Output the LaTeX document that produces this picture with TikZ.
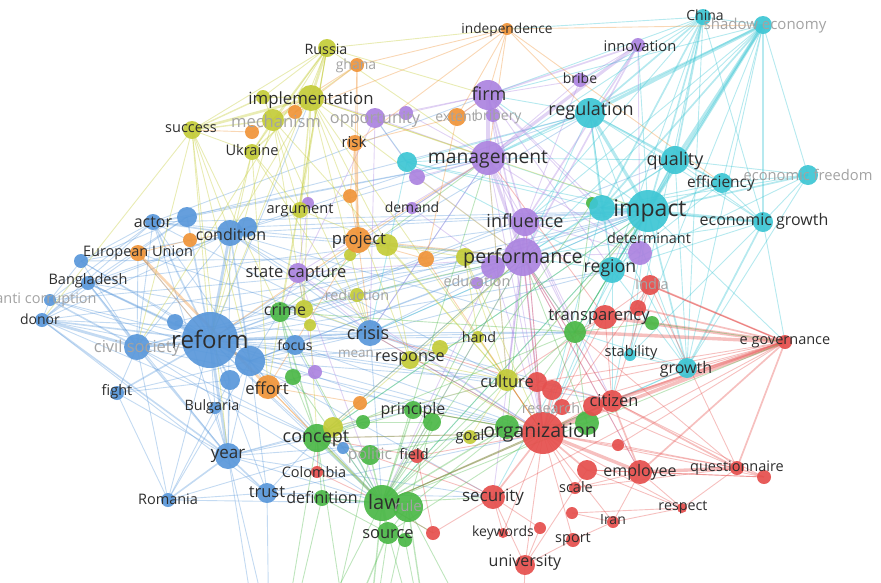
\documentclass[tikz,border=0pt]{standalone}
\usepackage{fontspec}
\setmainfont{Open Sans}
\pgfdeclarelayer{bg}
\pgfsetlayers{bg,main}
\definecolor{cb}{HTML}{5A98DA}
\definecolor{cg}{HTML}{4CB848}
\definecolor{cr}{HTML}{E5504E}
\definecolor{cy}{HTML}{C4CC3A}
\definecolor{cp}{HTML}{AC84E0}
\definecolor{cc}{HTML}{3EC6D4}
\definecolor{co}{HTML}{F0953A}
\definecolor{tdark}{HTML}{2E2E2E}
\definecolor{tgray}{HTML}{A3A3A3}
\tikzset{
 nd/.style={circle,inner sep=0pt,draw=none,minimum size=#1},
 lab/.style={inner sep=0pt,text=tdark},
 labg/.style={inner sep=0pt,text=tgray},
 eb/.style={draw=cb,draw opacity=.36,line width=#1}, eb/.default=0.9pt,
 eg/.style={draw=cg,draw opacity=.36,line width=#1}, eg/.default=0.9pt,
 er/.style={draw=cr,draw opacity=.36,line width=#1}, er/.default=0.9pt,
 ey/.style={draw=cy,draw opacity=.38,line width=#1}, ey/.default=0.9pt,
 ep/.style={draw=cp,draw opacity=.36,line width=#1}, ep/.default=0.9pt,
 ec/.style={draw=cc,draw opacity=.38,line width=#1}, ec/.default=0.9pt,
 eo/.style={draw=co,draw opacity=.38,line width=#1}, eo/.default=0.9pt,
}
\newcommand\VN[5]{\node[nd={#4*2pt},fill=#5,fill opacity=.93] (#1) at (#2,#3) {};}
\newcommand\TB[5]{\node[lab,font=\fontsize{#4}{#4}\selectfont] (#1) at (#2,#3) {#5};}
\newcommand\TG[5]{\node[labg,font=\fontsize{#4}{#4}\selectfont] (#1) at (#2,#3) {#5};}
\newcommand\ED[2]{\foreach \a/\b in {#2} {\draw[#1] (\a.center) -- (\b.center);}}
\begin{document}
\begin{tikzpicture}[x=1pt,y=-1pt]
\useasboundingbox (0,0) rectangle (881,582);
\clip (0,0) rectangle (881,582);
% ---------- blue
\VN{reform}{210}{340}{28}{cb}
\VN{civsoc}{137}{347}{13}{cb}
\VN{b1}{175}{322}{8}{cb}
\VN{b2}{250}{361}{15}{cb}
\VN{b3}{230}{380}{10}{cb}
\VN{actor}{153}{222}{8}{cb}
\VN{b4}{187}{217}{10}{cb}
\VN{condition}{230}{233}{13}{cb}
\VN{b5}{247}{227}{10}{cb}
\VN{b6}{81}{261}{7}{cb}
\VN{bangla}{88}{283}{7}{cb}
\VN{anticorr}{50}{300}{6}{cb}
\VN{donor}{42}{320}{7}{cb}
\VN{fight}{117}{393}{7}{cb}
\VN{bulgaria}{215}{408}{6}{cb}
\VN{year}{228}{456}{13}{cb}
\VN{romania}{168}{500}{7}{cb}
\VN{trust}{267}{493}{10}{cb}
\VN{focus}{295}{345}{10}{cb}
\VN{crisis}{370}{333}{13}{cb}
\VN{b7}{343}{448}{6}{cb}
% ---------- green
\VN{crime}{280}{312}{10}{cg}
\VN{g1}{293}{377}{8}{cg}
\VN{concept}{317}{438}{14}{cg}
\VN{politic}{370}{455}{10}{cg}
\VN{g2}{363}{422}{7}{cg}
\VN{principle}{413}{410}{9}{cg}
\VN{g3}{432}{422}{9}{cg}
\VN{definition}{322}{498}{8}{cg}
\VN{law}{382}{503}{18}{cg}
\VN{rule}{408}{507}{15}{cg}
\VN{source}{388}{533}{11}{cg}
\VN{g4}{405}{540}{7}{cg}
\VN{g5}{507}{427}{12}{cg}
\VN{g6}{587}{423}{12}{cg}
\VN{transp}{575}{332}{11}{cg}
\VN{g7}{652}{323}{7}{cg}
\VN{g8}{592}{203}{6}{cg}
% ---------- red
\VN{org}{543}{433}{21}{cr}
\VN{r1}{537}{382}{10}{cr}
\VN{r2}{552}{390}{10}{cr}
\VN{r3}{562}{407}{8}{cr}
\VN{citizen}{612}{401}{11}{cr}
\VN{r4}{593}{406}{10}{cr}
\VN{r5}{618}{445}{6}{cr}
\VN{employee}{640}{472}{12}{cr}
\VN{r6}{587}{470}{10}{cr}
\VN{quest}{737}{468}{7}{cr}
\VN{r7}{764}{477}{7}{cr}
\VN{respect}{682}{508}{5}{cr}
\VN{iran}{613}{522}{6}{cr}
\VN{scale}{575}{488}{6}{cr}
\VN{r8}{572}{513}{6}{cr}
\VN{sport}{573}{540}{7}{cr}
\VN{r9}{540}{528}{6}{cr}
\VN{keywords}{503}{533}{5}{cr}
\VN{univ}{525}{565}{10}{cr}
\VN{security}{493}{497}{12}{cr}
\VN{r10}{433}{533}{7}{cr}
\VN{field}{417}{456}{7}{cr}
\VN{colombia}{317}{472}{6}{cr}
\VN{india}{650}{285}{10}{cr}
\VN{r11}{638}{308}{8}{cr}
\VN{r12}{605}{317}{12}{cr}
\VN{egov}{785}{342}{7}{cr}
% ---------- cyan
\VN{impact}{648}{211}{21}{cc}
\VN{c1}{602}{208}{13}{cc}
\VN{econgrowth}{763}{222}{10}{cc}
\VN{region}{612}{270}{13}{cc}
\VN{stability}{630}{355}{6}{cc}
\VN{growth}{687}{368}{10}{cc}
\VN{quality}{675}{160}{14}{cc}
\VN{efficiency}{722}{183}{10}{cc}
\VN{econfree}{808}{175}{10}{cc}
\VN{china}{703}{17}{8}{cc}
\VN{shadow}{763}{25}{9}{cc}
\VN{regulation}{590}{113}{15}{cc}
\VN{c2}{407}{162}{10}{cc}
% ---------- purple
\VN{firm}{488}{95}{15}{cp}
\VN{management}{488}{158}{17}{cp}
\VN{bribe}{580}{80}{7}{cp}
\VN{innovation}{638}{45}{7}{cp}
\VN{opportunity}{375}{118}{10}{cp}
\VN{p1}{406}{113}{7}{cp}
\VN{bribery}{493}{115}{7}{cp}
\VN{p2}{417}{177}{8}{cp}
\VN{influence}{525}{222}{14}{cp}
\VN{performance}{523}{257}{19}{cp}
\VN{p3}{493}{267}{12}{cp}
\VN{education}{477}{283}{6}{cp}
\VN{determinant}{640}{253}{12}{cp}
\VN{statecap}{298}{273}{10}{cp}
\VN{demand}{412}{208}{6}{cp}
\VN{p4}{308}{203}{6}{cp}
\VN{p5}{315}{372}{7}{cp}
% ---------- yellow
\VN{russia}{327}{48}{9}{cy}
\VN{implementation}{311}{98}{13}{cy}
\VN{y1}{263}{97}{7}{cy}
\VN{mechanism}{273}{120}{11}{cy}
\VN{success}{192}{130}{9}{cy}
\VN{ukraine}{252}{152}{8}{cy}
\VN{argument}{300}{210}{8}{cy}
\VN{y2}{387}{245}{11}{cy}
\VN{y3}{350}{255}{6}{cy}
\VN{y4}{465}{257}{9}{cy}
\VN{reduction}{357}{295}{7}{cy}
\VN{y5}{304}{309}{9}{cy}
\VN{y6}{310}{325}{6}{cy}
\VN{hand}{478}{337}{6}{cy}
\VN{response}{410}{360}{9}{cy}
\VN{y7}{440}{348}{8}{cy}
\VN{culture}{507}{380}{11}{cy}
\VN{goal}{470}{437}{7}{cy}
\VN{y8}{333}{427}{10}{cy}
% ---------- orange
\VN{independence}{507}{29}{6}{co}
\VN{ghana}{357}{65}{7}{co}
\VN{o1}{295}{112}{7}{co}
\VN{o2}{252}{132}{7}{co}
\VN{extent}{457}{117}{9}{co}
\VN{risk}{355}{143}{8}{co}
\VN{o3}{350}{196}{7}{co}
\VN{project}{358}{240}{13}{co}
\VN{o4}{426}{259}{8}{co}
\VN{effort}{268}{387}{12}{co}
\VN{o5}{360}{403}{7}{co}
\VN{o6}{190}{240}{7}{co}
\VN{eu}{138}{253}{8}{co}
% off-picture ends
\coordinate (ob1) at (270,720);
\coordinate (ob2) at (360,720);
\coordinate (ob3) at (440,720);
\coordinate (ob4) at (520,720);
\coordinate (ob5) at (310,720);
\coordinate (ob6) at (300,760);
\begin{pgfonlayer}{bg}
\clip (0,0) rectangle (881,582);
% blue
\ED{eb=2.8pt}{reform/civsoc,reform/b2,reform/condition,reform/year,civsoc/donor,reform/b1}
\ED{eb=1.6pt}{reform/actor,reform/bangla,reform/donor,reform/fight,civsoc/year,civsoc/bangla,civsoc/anticorr,reform/crisis,year/trust,year/romania,reform/b4,reform/b3,condition/b2,actor/condition,donor/year,bangla/b2}
\ED{eb}{reform/eu,reform/anticorr,reform/bulgaria,reform/romania,reform/trust,reform/focus,reform/concept,reform/impact,reform/management,reform/performance,reform/regulation,reform/org,reform/transp,reform/implementation,reform/law,reform/b6,reform/quality,reform/region,reform/influence,civsoc/actor,civsoc/condition,civsoc/fight,civsoc/romania,civsoc/b6,civsoc/crisis,civsoc/eu,civsoc/performance,civsoc/impact,donor/actor,donor/condition,donor/b4,donor/bangla,donor/anticorr,donor/b2,donor/trust,anticorr/actor,anticorr/condition,anticorr/b6,anticorr/b2,bangla/condition,bangla/b4,bangla/year,b6/condition,b6/b4,b6/actor,b6/b2,actor/b4,actor/b2,actor/crisis,actor/year,condition/crisis,condition/year,condition/impact,condition/performance,condition/management,condition/b5,fight/year,fight/b2,fight/romania,fight/b3,year/b2,year/bulgaria,year/b3,year/concept,year/law,year/org,year/ob1,year/ob6,romania/trust,romania/b2,romania/b3,romania/law,romania/b7,trust/b2,trust/concept,trust/law,trust/ob1,crisis/b2,crisis/impact,crisis/performance,crisis/management,crisis/focus,crisis/org,focus/b2,b2/concept,b2/crime,b2/effort,b2/law,b2/impact,b2/performance,b7/concept,b7/law,b5/impact,b5/regulation,b4/management,actor/impact,bangla/impact,donor/performance,b1/impact,reform/culture,reform/response,reform/hand,reform/principle,reform/citizen,reform/security,condition/org,condition/transp,condition/culture,crisis/culture,crisis/transp,crisis/citizen,crisis/region,crisis/law,actor/performance,actor/management,b2/org,b2/transp,b2/culture,civsoc/org,civsoc/law,civsoc/concept,year/security,year/principle,year/culture,trust/org,trust/security,focus/org,focus/law,donor/crisis,donor/concept,bangla/crisis,anticorr/performance,b6/performance,eu/crisis,b4/regulation,actor/firm}
% cyan
\ED{ec=3.2pt}{impact/regulation,impact/quality,impact/econgrowth,impact/shadow,regulation/shadow,impact/c1,shadow/quality}
\ED{ec=1.7pt}{impact/efficiency,impact/china,impact/growth,impact/region,regulation/quality,shadow/econgrowth,regulation/china,china/quality,econfree/impact,shadow/c1,regulation/c1,shadow/management,china/c1,econgrowth/growth}
\ED{ec}{impact/stability,impact/egov,impact/management,impact/performance,impact/influence,impact/firm,impact/c2,impact/org,impact/transp,impact/innovation,impact/citizen,regulation/region,regulation/firm,regulation/management,regulation/econgrowth,regulation/efficiency,regulation/growth,regulation/innovation,regulation/c2,regulation/performance,quality/econgrowth,quality/efficiency,quality/econfree,quality/growth,quality/region,quality/c1,quality/management,shadow/china,shadow/region,shadow/growth,shadow/efficiency,shadow/stability,shadow/firm,shadow/econfree,china/region,china/econgrowth,china/growth,china/management,china/stability,china/independence,econfree/efficiency,econfree/econgrowth,econfree/c1,econfree/region,econgrowth/region,econgrowth/c1,econgrowth/stability,econgrowth/efficiency,econgrowth/egov,efficiency/c1,efficiency/region,growth/region,growth/c1,growth/stability,growth/org,growth/citizen,c2/management,c2/c1,c2/region,c2/crisis,c2/opportunity,region/c1,region/performance,region/org,china/firm,shadow/performance,china/bribe,econfree/growth,impact/law,impact/crisis,impact/concept,impact/security,impact/culture,region/citizen,region/transp,growth/transp,c1/performance,c1/org,shadow/influence,china/influence,quality/performance,econgrowth/performance}
% purple
\ED{ep=3.2pt}{firm/management,management/performance,management/innovation}
\ED{ep=1.6pt}{firm/performance,firm/influence,performance/influence,performance/org,innovation/performance,firm/innovation,innovation/influence}
\ED{ep}{firm/bribe,firm/bribery,firm/opportunity,firm/p1,firm/c1,firm/determinant,firm/extent,management/influence,management/bribe,management/opportunity,management/p2,management/determinant,management/statecap,management/org,performance/p3,performance/determinant,performance/culture,performance/transp,innovation/bribe,innovation/determinant,opportunity/p1,opportunity/statecap,opportunity/p2,opportunity/implementation,statecap/p4,statecap/p5,statecap/crime,influence/determinant,influence/p3,demand/p3,demand/management,p5/effort,bribe/influence,p3/education,statecap/performance,p2/performance,performance/law,performance/concept,performance/security,performance/citizen,performance/employee,management/culture,management/transp,management/crisis,influence/org,influence/culture,influence/transp,influence/citizen,firm/region,firm/org,statecap/law,statecap/org,statecap/crisis,p3/org,p3/law,opportunity/crisis,p1/management}
% yellow
\ED{ey=2.6pt}{implementation/mechanism,implementation/russia,implementation/success}
\ED{ey=1.4pt}{implementation/ukraine,implementation/y1,russia/mechanism,success/mechanism,mechanism/ukraine,implementation/argument,success/y1}
\ED{ey}{implementation/y2,implementation/y5,implementation/response,implementation/culture,implementation/condition,implementation/crisis,implementation/o1,implementation/ghana,implementation/management,russia/success,russia/ukraine,russia/y1,russia/independence,russia/reform,russia/civsoc,russia/firm,russia/argument,russia/effort,success/ukraine,success/reform,success/civsoc,success/condition,success/crime,mechanism/y1,mechanism/argument,mechanism/reform,mechanism/y5,mechanism/culture,ukraine/reform,ukraine/argument,ukraine/condition,argument/y2,argument/y5,y2/culture,y2/response,y2/y4,y4/culture,y4/hand,culture/response,culture/goal,culture/y8,culture/org,y8/concept,y8/response,response/y7,y7/hand,russia/management,success/year,mechanism/crisis,y5/crisis,y6/concept,reduction/crisis,y3/project,success/donor,ukraine/effort,culture/management,culture/impact,response/org,response/performance,hand/org,y2/performance,y4/org,implementation/performance,implementation/impact,success/b2,ukraine/crisis,russia/crime}
% orange
\ED{eo=2.6pt}{eu/effort,risk/project}
\ED{eo}{independence/firm,independence/ghana,independence/regulation,independence/extent,independence/risk,independence/management,independence/o1,independence/efficiency,ghana/risk,ghana/o1,ghana/project,ghana/o2,risk/o3,risk/extent,project/o3,project/o4,project/effort,project/reform,project/crisis,eu/o6,eu/reform,effort/o5,effort/concept,extent/o4,extent/firm,o2/success,o6/condition,independence/shadow,project/performance,project/management,o4/org,effort/law}
% red
\ED{er=3.4pt}{egov/transp,egov/r12,egov/citizen,egov/org,org/employee,quest/employee}
\ED{er=1.7pt}{egov/india,egov/r11,egov/employee,egov/quest,org/citizen,org/security,org/r1,org/r2,org/r6,quest/citizen,quest/r7,employee/citizen,egov/r4}
\ED{er}{egov/r2,egov/growth,egov/region,egov/r5,egov/security,org/r3,org/r4,org/r5,org/scale,org/sport,org/univ,org/keywords,org/quest,org/respect,org/iran,org/field,org/transp,org/india,org/r12,org/law,quest/respect,quest/r5,quest/r4,quest/scale,quest/india,r7/employee,r7/r6,r7/citizen,employee/respect,employee/iran,employee/r6,employee/scale,respect/iran,respect/r6,respect/r8,iran/sport,iran/r8,security/univ,security/keywords,security/r10,security/field,security/r9,univ/sport,univ/r9,univ/ob4,r10/field,citizen/r12,citizen/india,citizen/r1,transp/r12,r12/india,r12/r11,india/r11,colombia/law,colombia/concept,egov/r1,r6/univ,egov/r3,r12/culture,field/concept,r10/law,org/crisis,org/concept,org/principle,org/culture,org/influence,citizen/performance,citizen/law,r12/management,security/concept,employee/performance,r1/performance,r2/crisis,quest/transp,r7/org,egov/india}
% green
\ED{eg=2.8pt}{law/concept,law/rule,law/source}
\ED{eg=1.4pt}{law/definition,law/principle,law/politic,law/ob2,rule/ob3,source/ob5,law/g5,concept/crime}
\ED{eg}{law/g3,law/g6,law/transp,law/crime,law/org,law/ob1,law/g1,law/security,law/r10,concept/definition,concept/politic,concept/g1,concept/g2,concept/principle,rule/source,rule/g5,rule/g3,rule/ob2,source/g4,source/ob2,source/ob3,source/definition,principle/g3,principle/g5,g5/g6,g5/transp,g6/transp,g7/transp,crime/g1,crime/transp,definition/ob1,g8/transp,law/g8,concept/transp,politic/g5,g2/g3,law/impact,concept/ob1,g4/ob3,rule/ob4,g6/egov,g7/egov,transp/region,law/performance,law/management,law/influence,law/culture,concept/org,concept/performance,concept/impact,principle/org,crime/performance,crime/management,transp/impact,transp/performance,g5/performance,g6/performance,law/citizen,source/org,politic/ob5,concept/ob2}
\end{pgfonlayer}
% ---------- labels
\TB{reformL}{210}{339}{24}{reform}
\TG{civsocL}{137}{348}{16.5}{civil society}
\TB{actorL}{153}{222}{16}{actor}
\TB{conditionL}{231}{234}{16}{condition}
\TB{euL}{138}{253}{14.5}{European Union}
\TB{banglaL}{88}{281}{14.5}{Bangladesh}
\TG{anticorrL}{46}{300}{14.5}{anti corruption}
\TB{donorL}{40}{319}{14}{donor}
\TB{fightL}{117}{392}{14.5}{fight}
\TB{bulgariaL}{212}{407}{14.3}{Bulgaria}
\TB{yearL}{228}{456}{17}{year}
\TB{romaniaL}{168}{499}{14.5}{Romania}
\TB{trustL}{267}{492}{16.5}{trust}
\TB{colombiaL}{314}{472}{14.5}{Colombia}
\TB{definitionL}{322}{497}{16}{definition}
\TB{conceptL}{316}{439}{18}{concept}
\TG{politicL}{370}{455}{15.7}{politic}
\TB{principleL}{413}{410}{16}{principle}
\TB{fieldL}{414}{454}{14.5}{field}
\TB{lawL}{384}{502}{20}{law}
\TG{ruleL}{408}{506}{15}{rule}
\TB{sourceL}{388}{534}{16.5}{source}
\TB{securityL}{493}{497}{17}{security}
\TB{keywordsL}{503}{533}{14}{keywords}
\TB{univL}{525}{563}{16}{university}
\TB{sportL}{573}{539}{14.5}{sport}
\TB{scaleL}{576}{487}{14.5}{scale}
\TB{iranL}{613}{520}{14}{Iran}
\TB{respectL}{683}{507}{14.3}{respect}
\TB{employeeL}{640}{472}{16}{employee}
\TB{questL}{737}{468}{14.5}{questionnaire}
\TB{citizenL}{614}{401}{16.4}{citizen}
\TG{researchL}{551}{408}{14.5}{research}
\TB{orgL}{540}{433}{19.5}{organization}
\TB{goalL}{470}{437}{14.6}{goal}
\TB{cultureL}{507}{381}{16.4}{culture}
\TB{handL}{479}{337}{14.3}{hand}
\TB{responseL}{410}{359}{16.2}{response}
\TG{meanL}{356}{354}{13.5}{mean}
\TB{crisisL}{368}{333}{18}{crisis}
\TB{focusL}{295}{345}{14}{focus}
\TB{crimeL}{285}{310}{16}{crime}
\TB{effortL}{267}{388}{16.6}{effort}
\TB{statecapL}{296}{274}{16.5}{state capture}
\TG{reductionL}{357}{295}{14.4}{reduction}
\TG{educationL}{477}{281}{14.4}{education}
\TB{projectL}{359}{240}{16.7}{project}
\TB{argumentL}{300}{210}{14.6}{argument}
\TB{demandL}{412}{207}{14}{demand}
\TB{influenceL}{525}{221}{18}{influence}
\TB{performanceL}{523}{258}{19.7}{performance}
\TB{impactL}{650}{211}{23}{impact}
\TB{determinantL}{649}{238}{14.4}{determinant}
\TB{econgrowthL}{764}{221}{16}{economic growth}
\TB{regionL}{610}{268}{17.7}{region}
\TG{indiaL}{652}{284}{14.5}{India}
\TB{transpL}{599}{317}{16.6}{transparency}
\TB{stabilityL}{631}{353}{14.6}{stability}
\TB{growthL}{686}{369}{16}{growth}
\TB{egovL}{785}{342}{14.5}{e governance}
\TB{qualityL}{675}{161}{18}{quality}
\TB{efficiencyL}{721}{183}{15.5}{efficiency}
\TG{econfreeL}{808}{175}{14.7}{economic freedom}
\TB{chinaL}{705}{15}{14}{China}
\TG{shadowL}{765}{26}{15}{shadow economy}
\TB{innovationL}{640}{46}{14.7}{innovation}
\TB{bribeL}{580}{78}{14}{bribe}
\TB{regulationL}{591}{111}{18}{regulation}
\TB{firmL}{489}{94}{18}{firm}
\TG{extentL}{456}{117}{14}{extent}
\TG{briberyL}{498}{117}{14}{bribery}
\TG{opportunityL}{375}{119}{16.3}{opportunity}
\TB{managementL}{488}{159}{19.3}{management}
\TB{riskL}{354}{142}{15}{risk}
\TB{russiaL}{326}{49}{14.3}{Russia}
\TG{ghanaL}{356}{66}{14}{ghana}
\TB{independenceL}{507}{30}{13.7}{independence}
\TB{implementationL}{311}{100}{16.8}{implementation}
\TG{mechanismL}{276}{121}{16.6}{mechanism}
\TB{successL}{191}{129}{14.5}{success}
\TB{ukraineL}{252}{150}{14.6}{Ukraine}
\end{tikzpicture}
\end{document}
